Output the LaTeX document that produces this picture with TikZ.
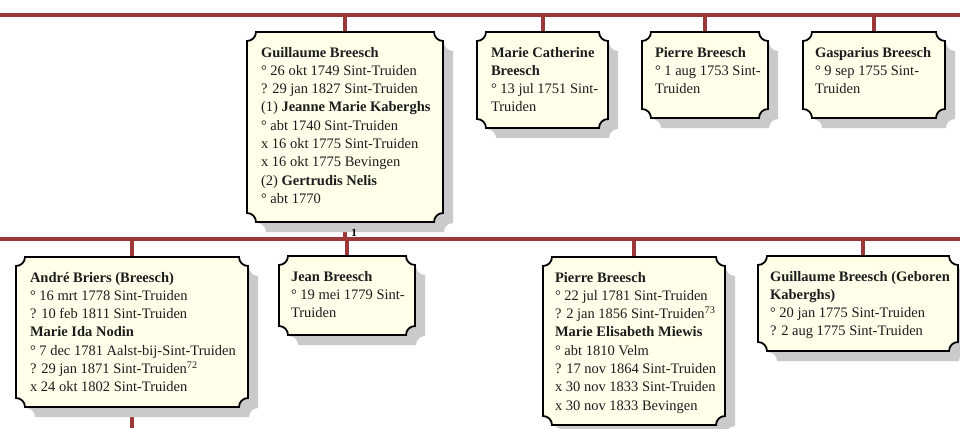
\documentclass[tikz,border=0pt]{standalone}
\usepackage{fontspec}
\setmainfont{Liberation Serif}
\usetikzlibrary{calc}
\definecolor{linered}{RGB}{158,56,56}
\definecolor{cardfill}{RGB}{255,255,234}
\definecolor{shadowgray}{RGB}{202,202,202}
\definecolor{inktext}{RGB}{28,28,28}
\pgfdeclarelayer{bg}
\pgfsetlayers{bg,main}
\newcommand\cardshape[3]{%
  \path[#2] let \p1=($(#1.north west)+(#3pt,-#3pt)$), \p2=($(#1.south east)+(#3pt,-#3pt)$) in
    (\x1+9pt,\y1) -- (\x2-9pt,\y1)
    .. controls (\x2-9pt,\y1-4.97pt) and (\x2-4.97pt,\y1-9pt) .. (\x2,\y1-9pt)
    -- (\x2,\y2+9pt)
    .. controls (\x2-4.97pt,\y2+9pt) and (\x2-9pt,\y2+4.97pt) .. (\x2-9pt,\y2)
    -- (\x1+9pt,\y2)
    .. controls (\x1+9pt,\y2+4.97pt) and (\x1+4.97pt,\y2+9pt) .. (\x1,\y2+9pt)
    -- (\x1,\y1-9pt)
    .. controls (\x1+4.97pt,\y1-9pt) and (\x1+9pt,\y1-4.97pt) .. (\x1+9pt,\y1)
    -- cycle;}
\newcommand\cardtxt[1]{\begin{minipage}[t]{240pt}\raggedright #1\end{minipage}}
\begin{document}
\begin{tikzpicture}[x=1pt,y=-1pt,
  cardframe/.style={anchor=north west, inner sep=0pt, outer sep=0pt, draw=none},
  cardtext/.style={anchor=base west, inner sep=0pt, outer sep=0pt,
    font=\fontsize{14.5}{18.3}\selectfont, text=inktext},
  redline/.style={draw=linered, line width=4pt},
  cardborder/.style={fill=cardfill, draw=black, line width=1.8pt},
  cardshadow/.style={fill=shadowgray}]
\useasboundingbox (0,0) rectangle (960,428);

% line coordinates
\coordinate (t0) at (0,15);
\coordinate (t1) at (960,15);
\coordinate (b0) at (0,238.5);
\coordinate (b1) at (960,238.5);
\coordinate (bottomedge) at (0,428);

% frames
\node[cardframe, minimum width=196pt, minimum height=190pt] (gb) at (247,32) {};
\node[cardframe, minimum width=131pt, minimum height=96pt] (mc) at (477,32) {};
\node[cardframe, minimum width=126pt, minimum height=86pt] (pb) at (642,32) {};
\node[cardframe, minimum width=142pt, minimum height=86pt] (gs) at (803,32) {};
\node[cardframe, minimum width=232pt, minimum height=150pt] (ab) at (16,257) {};
\node[cardframe, minimum width=136pt, minimum height=79pt] (jb) at (279,256) {};
\node[cardframe, minimum width=182pt, minimum height=168pt] (pe) at (543,257) {};
\node[cardframe, minimum width=200pt, minimum height=95pt] (gg) at (758,256) {};

% texts
\node[cardtext] (gbt) at ($(gb.north west)+(14,25)$) {\cardtxt{%
\textbf{Guillaume Breesch}\\
° 26 okt 1749 Sint-Truiden\\
? 29 jan 1827 Sint-Truiden\\
(1) \textbf{Jeanne Marie Kaberghs}\\
° abt 1740 Sint-Truiden\\
x 16 okt 1775 Sint-Truiden\\
x 16 okt 1775 Bevingen\\
(2) \textbf{Gertrudis Nelis}\\
° abt 1770}};
\node[cardtext] (mct) at ($(mc.north west)+(14,25)$) {\cardtxt{%
\textbf{Marie Catherine}\\
\textbf{Breesch}\\
° 13 jul 1751 Sint-\\
Truiden}};
\node[cardtext] (pbt) at ($(pb.north west)+(13,25)$) {\cardtxt{%
\textbf{Pierre Breesch}\\
° 1 aug 1753 Sint-\\
Truiden}};
\node[cardtext] (gst) at ($(gs.north west)+(12,25)$) {\cardtxt{%
\textbf{Gasparius Breesch}\\
° 9 sep 1755 Sint-\\
Truiden}};
\node[cardtext] (abt) at ($(ab.north west)+(14,25)$) {\cardtxt{%
\textbf{André Briers (Breesch)}\\
° 16 mrt 1778 Sint-Truiden\\
? 10 feb 1811 Sint-Truiden\\
\textbf{Marie Ida Nodin}\\
° 7 dec 1781 Aalst-bij-Sint-Truiden\\
? 29 jan 1871 Sint-Truiden\textsuperscript{72}\\
x 24 okt 1802 Sint-Truiden}};
\node[cardtext] (jbt) at ($(jb.north west)+(12,25)$) {\cardtxt{%
\textbf{Jean Breesch}\\
° 19 mei 1779 Sint-\\
Truiden}};
\node[cardtext] (pet) at ($(pe.north west)+(12,25)$) {\cardtxt{%
\textbf{Pierre Breesch}\\
° 22 jul 1781 Sint-Truiden\\
? 2 jan 1856 Sint-Truiden\textsuperscript{73}\\
\textbf{Marie Elisabeth Miewis}\\
° abt 1810 Velm\\
? 17 nov 1864 Sint-Truiden\\
x 30 nov 1833 Sint-Truiden\\
x 30 nov 1833 Bevingen}};
\node[cardtext] (ggt) at ($(gg.north west)+(12,25)$) {\cardtxt{%
\textbf{Guillaume Breesch (Geboren}\\
\textbf{Kaberghs)}\\
° 20 jan 1775 Sint-Truiden\\
? 2 aug 1775 Sint-Truiden}};

\node[inner sep=0pt, font=\fontsize{11}{11}\selectfont\bfseries, text=black] (lab1) at (354,233) {1};

\begin{pgfonlayer}{bg}
  \fill[white] (0,0) rectangle (960,428);
  % connectors
  \draw[redline] (t0) -- (t1);
  \draw[redline] (b0) -- (b1);
  \draw[redline] (gb.north) -- (gb.north |- t0);
  \draw[redline] (mc.north) -- (mc.north |- t0);
  \draw[redline] (pb.north) -- (pb.north |- t0);
  \draw[redline] (gs.north) -- (gs.north |- t0);
  \draw[redline] (gb.south) -- (gb.south |- b0);
  \draw[redline] (ab.north) -- (ab.north |- b0);
  \draw[redline] (jb.north) -- (jb.north |- b0);
  \draw[redline] (pe.north) -- (pe.north |- b0);
  \draw[redline] ($(gg.north)+(5,0)$) -- ($(gg.north |- b0)+(5,0)$);
  \draw[redline] (ab.south) -- (ab.south |- bottomedge);
  % shadows
  \cardshape{gb}{cardshadow}{10}
  \cardshape{mc}{cardshadow}{10}
  \cardshape{pb}{cardshadow}{10}
  \cardshape{gs}{cardshadow}{10}
  \cardshape{ab}{cardshadow}{10}
  \cardshape{jb}{cardshadow}{10}
  \cardshape{pe}{cardshadow}{10}
  \cardshape{gg}{cardshadow}{10}
  % cards
  \cardshape{gb}{cardborder}{0}
  \cardshape{mc}{cardborder}{0}
  \cardshape{pb}{cardborder}{0}
  \cardshape{gs}{cardborder}{0}
  \cardshape{ab}{cardborder}{0}
  \cardshape{jb}{cardborder}{0}
  \cardshape{pe}{cardborder}{0}
  \cardshape{gg}{cardborder}{0}
\end{pgfonlayer}
\end{tikzpicture}
\end{document}
